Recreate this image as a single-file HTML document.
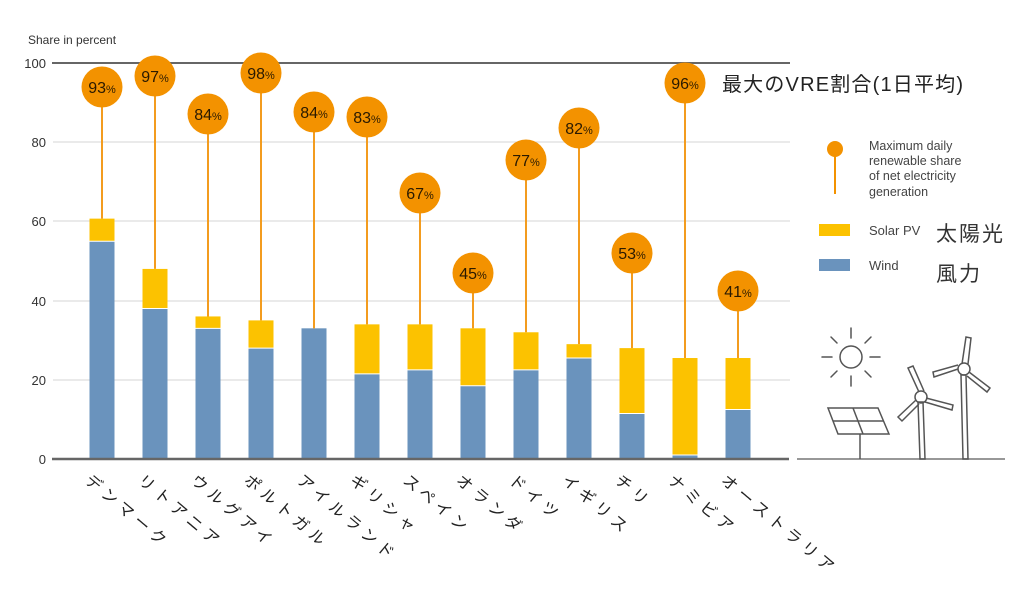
<!DOCTYPE html>
<html><head><meta charset="utf-8"><style>
body{margin:0;background:#fff;}
svg text{font-family:"Liberation Sans","Noto Sans CJK JP",sans-serif;}
</style></head><body>
<svg width="1024" height="597" viewBox="0 0 1024 597" xmlns="http://www.w3.org/2000/svg">
<text x="28" y="44" font-size="12" fill="#333">Share in percent</text>
<g font-size="13" fill="#333" text-anchor="end">
<text x="46" y="68">100</text><text x="46" y="147">80</text><text x="46" y="226">60</text><text x="46" y="306">40</text><text x="46" y="385">20</text><text x="46" y="464">0</text>
</g>
<g stroke="#d4d4d4" stroke-width="1">
<line x1="53" y1="142" x2="790" y2="142"/><line x1="53" y1="221" x2="790" y2="221"/><line x1="53" y1="301" x2="790" y2="301"/><line x1="53" y1="380" x2="790" y2="380"/>
</g>
<line x1="52" y1="63" x2="790" y2="63" stroke="#666" stroke-width="2"/>
<g id="bars"></g>
<line x1="52" y1="459" x2="789" y2="459" stroke="#666" stroke-width="2.5"/>
<line x1="797" y1="459" x2="1005" y2="459" stroke="#777" stroke-width="1.5"/>
<text x="722" y="91" font-size="20" fill="#222" textLength="241" lengthAdjust="spacing">最大のVRE割合(1日平均)</text>
<circle cx="835" cy="149" r="8" fill="#f39200"/>
<line x1="835" y1="149" x2="835" y2="194" stroke="#f39200" stroke-width="2"/>
<text font-size="12.5" fill="#444"><tspan x="869" y="150">Maximum daily</tspan><tspan x="869" y="165">renewable share</tspan><tspan x="869" y="180">of net electricity</tspan><tspan x="869" y="196">generation</tspan></text>
<rect x="819" y="224" width="31" height="12" fill="#fcc200"/>
<rect x="819" y="259" width="31" height="12" fill="#6a93bd"/>
<text x="869" y="235" font-size="13" fill="#444">Solar PV</text>
<text x="869" y="270" font-size="13" fill="#444">Wind</text>
<text x="936" y="241" font-size="21" fill="#333" letter-spacing="2">太陽光</text>
<text x="936" y="281" font-size="21" fill="#333" letter-spacing="2">風力</text>
<g stroke="#555" stroke-width="1.5" fill="none">
<circle cx="851" cy="357" r="11"/>
<g stroke-linecap="round">
<line x1="851" y1="328" x2="851" y2="338"/><line x1="851" y1="376" x2="851" y2="386"/>
<line x1="822" y1="357" x2="832" y2="357"/><line x1="870" y1="357" x2="880" y2="357"/>
<line x1="831" y1="337" x2="837" y2="343"/><line x1="865" y1="371" x2="871" y2="377"/>
<line x1="871" y1="337" x2="865" y2="343"/><line x1="837" y1="371" x2="831" y2="377"/>
</g>
<polygon points="828,408 878,408 889,434 838,434"/>
<line x1="833" y1="421" x2="884" y2="421"/><line x1="853" y1="408" x2="863" y2="434"/>
<line x1="860" y1="434" x2="860" y2="459"/>
<polygon points="918,402 920,459 925,459 923,402"/>
<circle cx="921" cy="397" r="6"/>
<path d="M919,392 L908,368 L913,366 L924,391 M926,398 L953,405 L952,410 L925,402 M916,400 L898,417 L902,421 L919,404"/>
<polygon points="961,375 963,459 968,459 966,375"/>
<circle cx="964" cy="369" r="6"/>
<path d="M962,364 L966,337 L971,338 L968,364 M969,372 L990,388 L987,392 L967,376 M958,369 L934,377 L933,372 L958,365"/>
</g>
<g id="circles"></g>
<g id="labels" font-size="16" fill="#222"></g>
</svg>
<script>
var d=[["デンマーク",55,60.7,93,87],["リトアニア",38,48,97,76],["ウルグアイ",33,36,84,114],["ポルトガル",28,35,98,73],["アイルランド",33,33,84,112],["ギリシャ",21.5,34,83,117],["スペイン",22.5,34,67,193],["オランダ",18.5,33,45,273],["ドイツ",22.5,32,77,160],["イギリス",25.5,29,82,128],["チリ",11.5,28,53,253],["ナミビア",1,25.5,96,83],["オーストラリア",12.5,25.5,41,291]];
var ns="http://www.w3.org/2000/svg",B=document.getElementById("bars"),C=document.getElementById("circles"),L=document.getElementById("labels");
function el(t,a,p){var e=document.createElementNS(ns,t);for(var k in a)e.setAttribute(k,a[k]);p.appendChild(e);return e;}
function y(v){return 459-v*3.96;}
d.forEach(function(r,i){var cx=102+i*53.0;
el("rect",{x:cx-12.5,y:y(r[2]),width:25,height:y(r[1])-y(r[2]),fill:"#fcc200"},B);
el("rect",{x:cx-12.5,y:y(r[1]),width:25,height:459-y(r[1]),fill:"#6a93bd"},B);
if(r[2]>r[1])el("line",{x1:cx-12.5,x2:cx+12.5,y1:y(r[1]),y2:y(r[1]),stroke:"#fff","stroke-width":1},B);
el("line",{x1:cx,x2:cx,y1:r[4],y2:y(r[2]),stroke:"#f39c1f","stroke-width":2},C);
el("circle",{cx:cx,cy:r[4],r:20.5,fill:"#f39200"},C);
var t=el("text",{x:cx,y:r[4]+6,"text-anchor":"middle","font-size":"16",fill:"#2a1a00"},C);
t.innerHTML=r[3]+'<tspan font-size="11">%</tspan>';
var l=el("text",{transform:"translate("+(cx-18)+",482) rotate(40)","letter-spacing":"5"},L);l.textContent=r[0];
});
</script>
</body></html>
